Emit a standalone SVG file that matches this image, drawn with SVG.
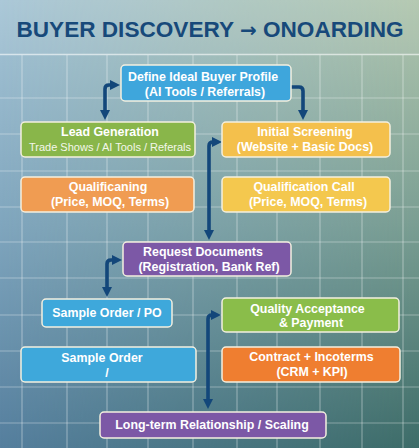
<svg xmlns="http://www.w3.org/2000/svg" width="419" height="448" viewBox="0 0 419 448">
<defs>
<linearGradient id="gl" x1="0" y1="0" x2="0" y2="1"><stop offset="0" stop-color="#a6c5d6"/><stop offset="0.5" stop-color="#80a6be"/><stop offset="1" stop-color="#557f9e"/></linearGradient>
<linearGradient id="gr" x1="0" y1="0" x2="0" y2="1"><stop offset="0" stop-color="#b1c6ae"/><stop offset="0.5" stop-color="#7a9e92"/><stop offset="1" stop-color="#3d6c68"/></linearGradient>
<linearGradient id="gm" x1="0" y1="0" x2="1" y2="0"><stop offset="0" stop-color="#fff" stop-opacity="0"/><stop offset="1" stop-color="#fff" stop-opacity="1"/></linearGradient>
<mask id="mk"><rect width="419" height="448" fill="url(#gm)"/></mask>
<marker id="ah" viewBox="0 0 10 10" refX="4" refY="5" markerWidth="10" markerHeight="10" markerUnits="userSpaceOnUse" orient="auto-start-reverse"><path d="M0,0 L10,5 L0,10 z" fill="#13477a"/></marker>
</defs>
<style>
.grid line{stroke:#ffffff;stroke-opacity:0.35;stroke-width:1.2}
.box{stroke:#f3efdf;stroke-width:1.5}
.t{font-family:"Liberation Sans",Arial,sans-serif;font-weight:bold;font-size:12.4px;fill:#ffffff;text-anchor:middle}
.s{font-family:"Liberation Sans",Arial,sans-serif;font-size:11px;fill:#f4f6ea;text-anchor:middle}
.c{fill:none;stroke:#13477a;stroke-width:3.6;stroke-linejoin:round}
</style>
<rect width="419" height="448" fill="url(#gl)"/>
<rect width="419" height="448" fill="url(#gr)" mask="url(#mk)"/>
<rect width="419" height="54" fill="#ffffff" fill-opacity="0.06"/>
<g class="grid">
<line x1="0" y1="54.5" x2="419" y2="54.5" style="stroke-opacity:0.6;stroke-width:1.5"/>
<line x1="22" y1="55" x2="22" y2="448"/><line x1="67" y1="55" x2="67" y2="448"/><line x1="107" y1="55" x2="107" y2="448"/><line x1="148" y1="55" x2="148" y2="448"/><line x1="193" y1="55" x2="193" y2="448"/><line x1="237" y1="55" x2="237" y2="448"/><line x1="277" y1="55" x2="277" y2="448"/><line x1="320" y1="55" x2="320" y2="448"/><line x1="362" y1="55" x2="362" y2="448"/><line x1="403" y1="55" x2="403" y2="448"/>
<line x1="0" y1="98" x2="419" y2="98"/><line x1="0" y1="134" x2="419" y2="134"/><line x1="0" y1="171" x2="419" y2="171"/><line x1="0" y1="207" x2="419" y2="207"/><line x1="0" y1="242" x2="419" y2="242"/><line x1="0" y1="278" x2="419" y2="278"/><line x1="0" y1="315" x2="419" y2="315"/><line x1="0" y1="351" x2="419" y2="351"/><line x1="0" y1="387" x2="419" y2="387"/><line x1="0" y1="423" x2="419" y2="423"/>
</g>
<text x="210" y="37" style="font-family:'Liberation Sans',Arial,sans-serif;font-weight:bold;font-size:22.6px;fill:#17497a;text-anchor:middle">BUYER DISCOVERY <tspan style="font-family:'DejaVu Sans',sans-serif;font-size:20px">→</tspan> ONOARDING</text>
<g id="connectors">
<path class="c" d="M114,85 L109,85 Q105,85 105,89 L105,114" marker-start="url(#ah)" marker-end="url(#ah)"/>
<path class="c" d="M291,87 L299,87 Q303,87 303,91 L303,114" marker-end="url(#ah)"/>
<path class="c" d="M209,234 L209,146 Q209,142 213,142 L216,142" marker-start="url(#ah)" marker-end="url(#ah)"/>
<path class="c" d="M116,260 L111,260 Q107,260 107,264 L107,291" marker-start="url(#ah)" marker-end="url(#ah)"/>
<path class="c" d="M215,315 L212,315 Q208,315 208,319 L208,403" marker-start="url(#ah)" marker-end="url(#ah)"/>
</g>
<g id="define">
<rect class="box" x="121" y="65" width="170" height="36" rx="4" fill="#3ea6dc"/>
<text class="t" x="203" y="80.5">Define Ideal Buyer Profile</text>
<text class="t" x="205" y="96">(AI Tools / Referrals)</text>
</g>
<g id="lead">
<rect class="box" x="21" y="122" width="174" height="35" rx="4" fill="#89b64a"/>
<text class="t" x="110" y="136">Lead Generation</text>
<text class="s" x="110" y="150.5">Trade Shows / AI Tools / Referals</text>
</g>
<g id="screening">
<rect class="box" x="222" y="122" width="168" height="35" rx="4" fill="#f4c04c"/>
<text class="t" x="305" y="136">Initial Screening</text>
<text class="t" x="305" y="151">(Website + Basic Docs)</text>
</g>
<g id="qualificaning">
<rect class="box" x="21" y="177" width="173" height="35" rx="4" fill="#f09c52"/>
<text class="t" x="108" y="191">Qualificaning</text>
<text class="t" x="110" y="205.5">(Price, MOQ, Terms)</text>
</g>
<g id="call">
<rect class="box" x="222" y="177" width="168" height="35" rx="4" fill="#f4c84e"/>
<text class="t" x="304" y="191">Qualification Call</text>
<text class="t" x="308" y="206">(Price, MOQ, Terms)</text>
</g>
<g id="request">
<rect class="box" x="123" y="242" width="168" height="34" rx="4" fill="#7c58a6"/>
<text class="t" x="203" y="256">Request Documents</text>
<text class="t" x="209" y="271">(Registration, Bank Ref)</text>
</g>
<g id="sample-po">
<rect class="box" x="42" y="299" width="130" height="28" rx="4" fill="#3ea8db"/>
<text class="t" x="107" y="317">Sample Order / PO</text>
</g>
<g id="quality">
<rect class="box" x="222" y="298" width="177" height="34" rx="4" fill="#8abd4a"/>
<text class="t" x="307.5" y="312.5">Quality Acceptance</text>
<text class="t" x="311" y="327">&amp; Payment</text>
</g>
<g id="sample">
<rect class="box" x="21" y="347" width="175" height="35" rx="4" fill="#3ea8db"/>
<text class="t" x="102" y="362">Sample Order</text>
<text class="t" x="107" y="377">/</text>
</g>
<g id="contract">
<rect class="box" x="222" y="347" width="178" height="35" rx="4" fill="#ef7e30"/>
<text class="t" x="311.5" y="361">Contract + Incoterms</text>
<text class="t" x="312" y="376">(CRM + KPI)</text>
</g>
<g id="longterm">
<rect class="box" x="100" y="412" width="226" height="26" rx="4" fill="#7c58a6"/>
<text class="t" x="212" y="429">Long-term Relationship / Scaling</text>
</g>
</svg>
